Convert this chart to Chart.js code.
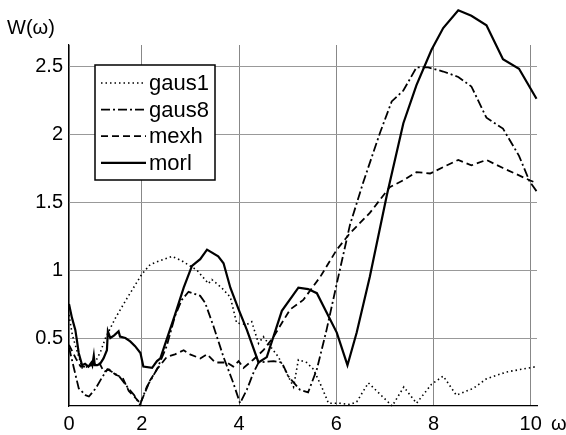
<!DOCTYPE html>
<html>
<head>
<meta charset="utf-8">
<script src="https://cdn.jsdelivr.net/npm/chart.js@4/dist/chart.umd.min.js"></script>
<style>
  html, body { margin: 0; padding: 0; background: #fff; }
  #wrap { width: 566px; height: 435px; position: relative; }
</style>
</head>
<body>
<div id="wrap"><canvas id="c"></canvas></div>
<script>
// ===== 数据 =====
const xTickValues = [0.5, 2, 4, 6, 8, 10];
const xTickLabels = ['0', '2', '4', '6', '8', '10'];
const yTickValues = [0.5, 1, 1.5, 2, 2.5];
const yTickLabels = ['0.5', '1', '1.5', '2', '2.5'];

const gaus1X = [0.50, 0.57, 0.67, 0.77, 0.90, 1.05, 1.15, 1.25, 1.46, 1.69, 2.00, 2.17, 2.38, 2.62, 2.81, 3.13, 3.37, 3.44, 3.64, 3.82, 3.95, 4.16, 4.26, 4.40, 4.50, 4.64, 4.81, 4.98, 5.12, 5.22, 5.39, 5.53, 5.70, 5.84, 6.08, 6.28, 6.42, 6.66, 7.15, 7.39, 7.65, 7.96, 8.20, 8.47, 8.82, 9.09, 9.50, 10.12];
const gaus1Y = [0.67, 0.52, 0.40, 0.28, 0.29, 0.33, 0.40, 0.50, 0.65, 0.79, 0.97, 1.04, 1.07, 1.10, 1.07, 1.00, 0.90, 0.93, 0.87, 0.80, 0.61, 0.60, 0.62, 0.46, 0.51, 0.44, 0.36, 0.24, 0.14, 0.34, 0.32, 0.27, 0.14, 0.02, 0.02, 0.01, 0.03, 0.17, 0.00, 0.14, 0.02, 0.16, 0.22, 0.08, 0.13, 0.20, 0.25, 0.29];

const gaus8X = [0.50, 0.60, 0.70, 0.84, 0.91, 1.05, 1.18, 1.29, 1.39, 1.53, 1.70, 1.84, 1.96, 2.10, 2.31, 2.51, 2.68, 2.82, 2.96, 3.20, 3.30, 3.47, 3.68, 3.88, 4.02, 4.16, 4.29, 4.40, 4.71, 4.88, 5.01, 5.25, 5.42, 5.60, 5.80, 6.01, 6.28, 6.55, 6.90, 7.14, 7.38, 7.65, 7.89, 8.20, 8.51, 8.78, 9.09, 9.43, 9.76, 9.98, 10.12];
const gaus8Y = [0.43, 0.28, 0.13, 0.08, 0.07, 0.13, 0.21, 0.27, 0.25, 0.22, 0.14, 0.08, 0.01, 0.14, 0.27, 0.44, 0.66, 0.78, 0.84, 0.81, 0.76, 0.59, 0.36, 0.17, 0.02, 0.12, 0.24, 0.32, 0.33, 0.32, 0.22, 0.12, 0.10, 0.27, 0.56, 0.90, 1.33, 1.64, 2.01, 2.24, 2.32, 2.49, 2.49, 2.46, 2.42, 2.35, 2.12, 2.04, 1.84, 1.65, 1.58];

const mexhX = [0.50, 0.64, 0.74, 0.84, 0.98, 1.12, 1.22, 1.32, 1.46, 1.60, 1.73, 1.84, 1.97, 2.17, 2.31, 2.51, 2.68, 2.86, 2.99, 3.20, 3.34, 3.51, 3.75, 3.88, 3.99, 4.09, 4.29, 4.50, 4.71, 5.05, 5.32, 5.67, 6.01, 6.28, 6.69, 7.10, 7.38, 7.65, 7.93, 8.51, 8.78, 9.09, 9.43, 9.98, 10.12];
const mexhY = [0.45, 0.35, 0.29, 0.29, 0.30, 0.32, 0.25, 0.27, 0.23, 0.21, 0.11, 0.07, 0.02, 0.19, 0.27, 0.36, 0.38, 0.41, 0.38, 0.35, 0.38, 0.32, 0.32, 0.29, 0.33, 0.28, 0.34, 0.41, 0.51, 0.71, 0.78, 0.95, 1.15, 1.27, 1.42, 1.61, 1.66, 1.72, 1.71, 1.81, 1.77, 1.81, 1.75, 1.66, 1.64];

const morlX = [0.50, 0.56, 0.63, 0.66, 0.70, 0.77, 0.83, 0.90, 0.96, 0.98, 1.01, 1.03, 1.08, 1.14, 1.21, 1.28, 1.30, 1.35, 1.43, 1.52, 1.55, 1.66, 1.76, 1.86, 1.97, 2.03, 2.21, 2.31, 2.38, 2.51, 2.68, 2.86, 3.03, 3.20, 3.34, 3.57, 3.68, 3.82, 3.99, 4.16, 4.40, 4.57, 4.88, 5.22, 5.42, 5.60, 6.01, 6.23, 6.42, 6.69, 7.04, 7.38, 7.65, 7.96, 8.20, 8.51, 8.78, 9.09, 9.43, 9.76, 10.12];
const morlY = [0.75, 0.65, 0.56, 0.49, 0.39, 0.30, 0.31, 0.29, 0.32, 0.30, 0.37, 0.30, 0.30, 0.31, 0.35, 0.41, 0.55, 0.50, 0.52, 0.55, 0.51, 0.50, 0.475, 0.44, 0.39, 0.29, 0.28, 0.33, 0.35, 0.49, 0.67, 0.87, 1.03, 1.08, 1.15, 1.10, 1.05, 0.87, 0.71, 0.56, 0.32, 0.36, 0.70, 0.87, 0.86, 0.83, 0.54, 0.30, 0.54, 0.95, 1.55, 2.08, 2.36, 2.62, 2.78, 2.91, 2.87, 2.80, 2.55, 2.48, 2.26];

const FONT = "'Liberation Sans', Arial, sans-serif";

function pts(xs, ys) {
  return xs.map((x, i) => ({ x, y: ys[i] }));
}

const series = [
  { label: 'gaus1', data: pts(gaus1X, gaus1Y), dash: [1.5, 3], width: 1.6 },
  { label: 'gaus8', data: pts(gaus8X, gaus8Y), dash: [9, 3, 2, 3], width: 1.8 },
  { label: 'mexh', data: pts(mexhX, mexhY), dash: [7, 4], width: 1.8 },
  { label: 'morl', data: pts(morlX, morlY), dash: [], width: 2.2 }
];

// 图内图例 + 轴标题
const extrasPlugin = {
  id: 'extras',
  afterDraw(chart) {
    const ctx = chart.ctx;
    ctx.save();
    const bx = 95, by = 65, bw = 120, bh = 115;
    ctx.fillStyle = '#fff';
    ctx.fillRect(bx, by, bw, bh);
    ctx.strokeStyle = '#000';
    ctx.lineWidth = 1.5;
    ctx.strokeRect(bx, by, bw, bh);
    series.forEach((s, i) => {
      const ly = 83 + i * 26.6;
      ctx.beginPath();
      ctx.setLineDash(s.dash);
      ctx.lineWidth = s.width;
      ctx.moveTo(101, ly);
      ctx.lineTo(146, ly);
      ctx.stroke();
      ctx.setLineDash([]);
      ctx.fillStyle = '#000';
      ctx.font = '22px ' + FONT;
      ctx.textBaseline = 'middle';
      ctx.textAlign = 'left';
      ctx.fillText(s.label, 149, ly + 1);
    });
    ctx.font = '20px ' + FONT;
    ctx.textBaseline = 'middle';
    ctx.fillText('W(\u03c9)', 7, 28);
    ctx.fillText('\u03c9', 551, 424);
    ctx.restore();
  }
};

new Chart(document.getElementById('c'), {
  type: 'line',
  data: {
    datasets: series.map(s => ({
      label: s.label,
      data: s.data,
      borderColor: '#000',
      borderWidth: s.width,
      borderDash: s.dash,
      pointRadius: 0,
      tension: 0,
      fill: false,
      clip: false
    }))
  },
  options: {
    responsive: true,
    maintainAspectRatio: false,
    animation: false,
    layout: { padding: { top: 45, right: 29, bottom: 0, left: 0 } },
    plugins: {
      legend: { display: false },
      tooltip: { enabled: false }
    },
    scales: {
      x: {
        type: 'linear',
        min: 0.5,
        max: 10.13,
        afterBuildTicks: scale => { scale.ticks = xTickValues.map(v => ({ value: v })); },
        afterFit: scale => { scale.height = 29; },
        ticks: {
          color: '#000',
          font: { family: FONT, size: 20 },
          padding: 6,
          maxRotation: 0,
          callback: v => xTickLabels[xTickValues.indexOf(v)]
        },
        grid: { color: '#888', lineWidth: 1, drawTicks: false },
        border: { color: '#000', width: 1.2 }
      },
      y: {
        min: 0,
        max: 2.655,
        afterBuildTicks: scale => { scale.ticks = yTickValues.map(v => ({ value: v })); },
        afterFit: scale => { scale.width = 69; },
        ticks: {
          color: '#000',
          font: { family: FONT, size: 20 },
          padding: 6,
          callback: v => yTickLabels[yTickValues.indexOf(v)]
        },
        grid: { color: '#999', lineWidth: 1, drawTicks: false },
        border: { color: '#000', width: 1.2 }
      }
    }
  },
  plugins: [extrasPlugin]
});
</script>
</body>
</html>
